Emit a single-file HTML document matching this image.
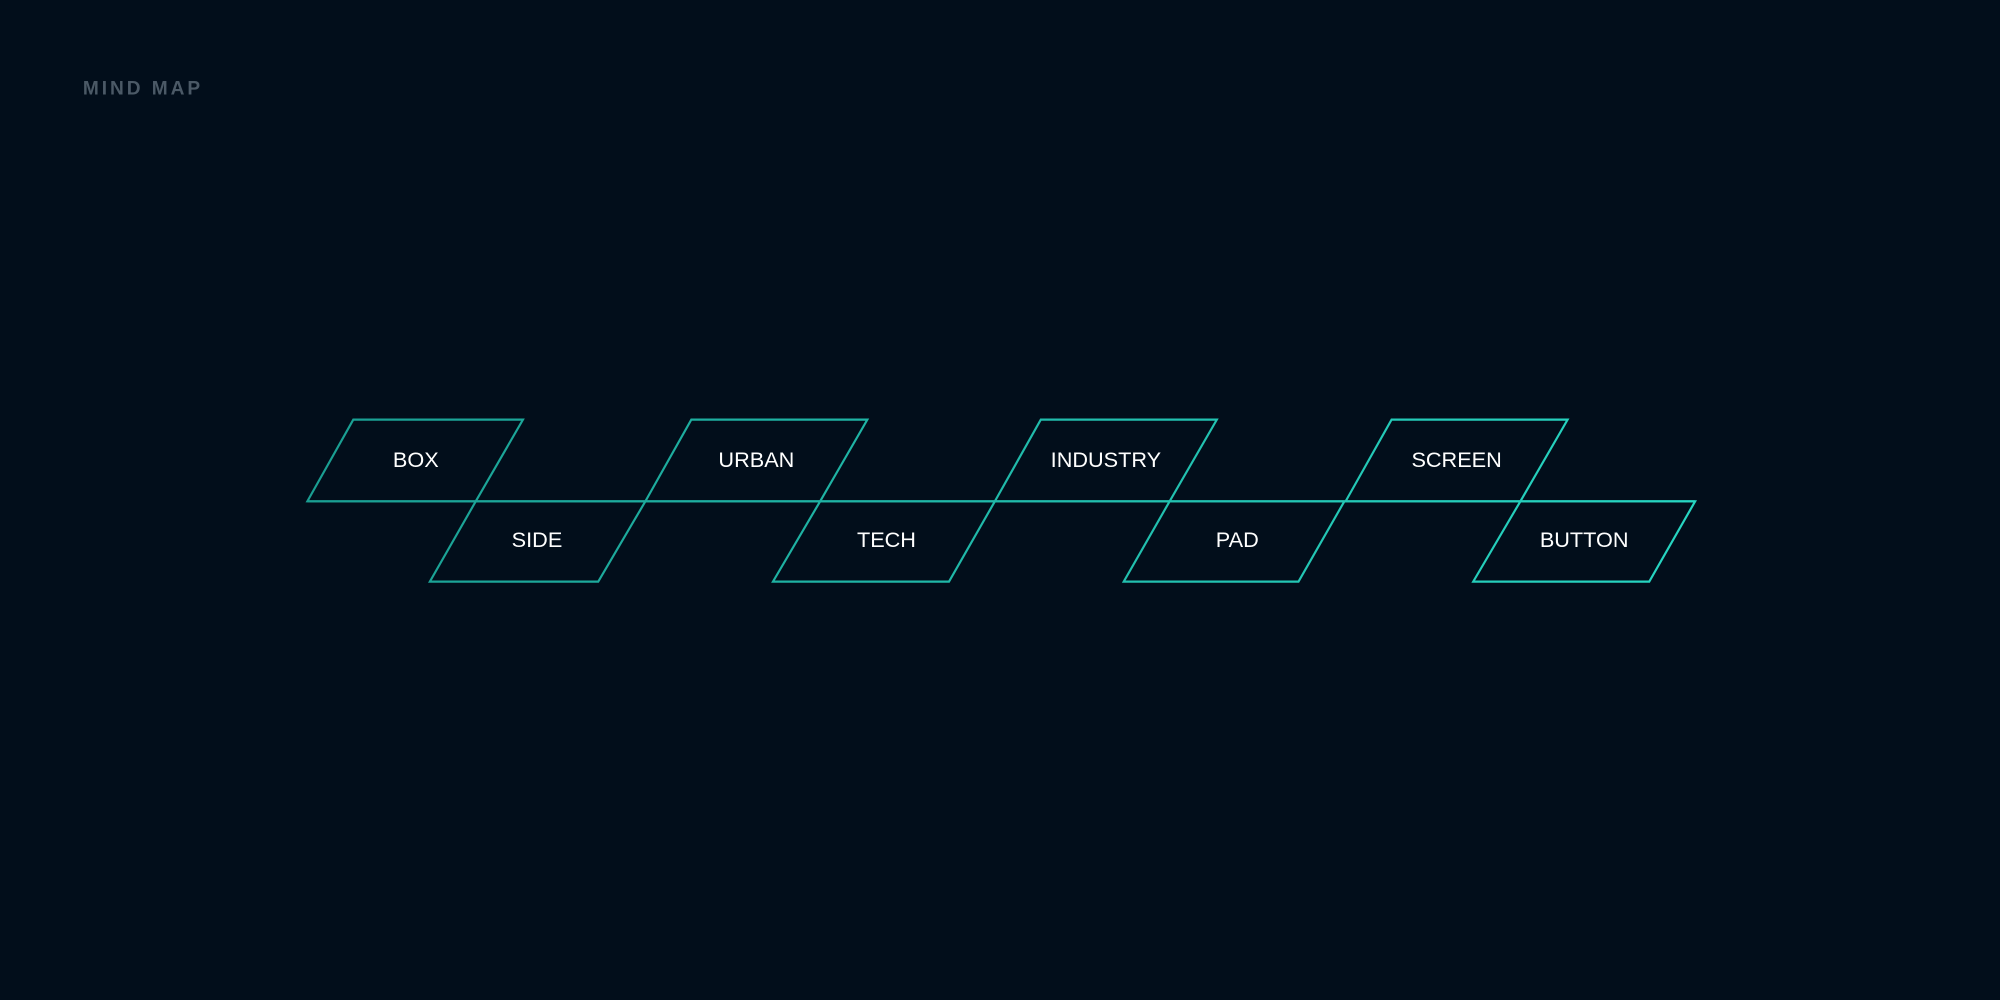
<!DOCTYPE html>
<html><head><meta charset="utf-8"><style>
html,body{margin:0;padding:0;background:#020e1b;}
svg{display:block}
</style></head><body>
<svg width="2000" height="1000" viewBox="0 0 1568 784" xmlns="http://www.w3.org/2000/svg">
<defs><linearGradient id="g" x1="241" y1="0" x2="1329" y2="0" gradientUnits="userSpaceOnUse">
<stop offset="0" stop-color="#1a9e92"/><stop offset="1" stop-color="#27d6c2"/></linearGradient></defs>
<rect width="1568" height="784" fill="#020e1b"/>
<text x="65" y="74" font-family="Liberation Sans, sans-serif" font-weight="bold" font-size="15" letter-spacing="2.3" fill="#4b5966">MIND MAP</text>
<g fill="none" stroke="url(#g)" stroke-width="1.7" stroke-linejoin="miter">
<line x1="241" y1="393" x2="1329" y2="393"/>
<polygon points="277,329 410,329 373,393 241,393"/>
<polygon points="373,393 506,393 469,456 337,456"/>
<polygon points="542,329 680,329 643,393 506,393"/>
<polygon points="643,393 780,393 744,456 606,456"/>
<polygon points="816,329 954,329 917,393 780,393"/>
<polygon points="917,393 1054,393 1018,456 881,456"/>
<polygon points="1091,329 1229,329 1192,393 1055,393"/>
<polygon points="1192,393 1329,393 1293,456 1155,456"/>
</g>
<g font-family="Liberation Sans, sans-serif" font-size="17" fill="#ffffff" text-anchor="middle">
<text x="326" y="366">BOX</text>
<text x="421" y="429">SIDE</text>
<text x="593" y="366">URBAN</text>
<text x="695" y="429">TECH</text>
<text x="867" y="366">INDUSTRY</text>
<text x="970" y="429">PAD</text>
<text x="1142" y="366">SCREEN</text>
<text x="1242" y="429">BUTTON</text>
</g>
</svg>
</body></html>
